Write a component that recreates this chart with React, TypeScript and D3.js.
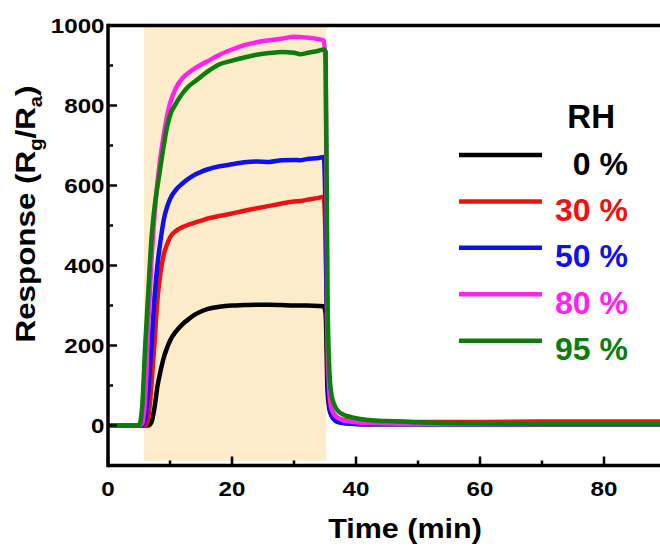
import React from "react";
import * as d3 from "d3";

// Sampling times (min) shared by every humidity series
const TIME = [
  0, 5, 5.5, 6, 6.5, 7, 7.5, 8, 8.5, 9, 9.5, 10, 11, 12, 13, 14, 15, 16, 18, 20,
  22, 24, 26, 28, 30, 31, 32, 34, 34.8, 35.1, 35.4, 35.7, 36, 36.5, 37, 38, 39,
  40, 42, 45, 50, 60, 70, 80, 90,
];

// Response Rg/Ra at each sampling time
const RH_0 = [
  0, 0, 0, 0, 0, 8, 45, 100, 138, 170, 193, 212, 236, 253, 266, 277, 285, 291,
  297, 300, 301, 302, 302, 301, 300, 300, 300, 299, 298, 280, 90, 42, 26, 16,
  11, 7, 5, 4, 3, 3, 3, 3, 3, 3, 3,
];
const RH_30 = [
  0, 0, 0, 0, 20, 100, 205, 320, 385, 428, 452, 470, 487, 496, 502, 507, 512,
  517, 524, 530, 537, 543, 549, 555, 560, 561, 564, 569, 572, 460, 170, 75, 42,
  26, 19, 14, 12, 11, 10, 10, 9, 9, 10, 10, 10,
];
const RH_50 = [
  0, 0, 0, 15, 90, 200, 320, 405, 465, 515, 545, 566, 590, 605, 617, 627, 634,
  640, 648, 653, 658, 660, 659, 663, 664, 663, 666, 669, 671, 520, 140, 55, 28,
  14, 9, 6, 5, 4, 3, 3, 3, 3, 3, 3, 3,
];
const RH_80 = [
  0, 0, 5, 70, 250, 410, 525, 612, 675, 728, 772, 805, 845, 868, 882, 893, 902,
  910, 927, 940, 951, 958, 963, 967, 972, 971, 970, 966, 962, 900, 230, 85, 45,
  28, 20, 13, 10, 8, 6, 5, 4, 4, 4, 4, 4,
];
const RH_95 = [
  0, 0, 45, 200, 335, 465, 545, 600, 650, 700, 745, 775, 806, 830, 848, 860,
  872, 884, 903, 912, 920, 927, 931, 934, 932, 928, 931, 937, 940, 935, 330,
  140, 82, 52, 38, 27, 22, 18, 14, 11, 8, 5, 4, 4, 4,
];

const SERIES_LABELS = ["0 %", "30 %", "50 %", "80 %", "95 %"];
const SERIES_VALUES = [RH_0, RH_30, RH_50, RH_80, RH_95];
const SERIES_COLORS = ["#000000", "#ee1111", "#1010ee", "#ff22ee", "#0b7d0b"];

// Gas exposure window (min)
const EXPOSURE = [5.8, 35.2];

const X_TICKS = [0, 20, 40, 60, 80];
const X_MINOR = [10, 30, 50, 70, 90];
const Y_TICKS = [0, 200, 400, 600, 800, 1000];
const Y_MINOR = [100, 300, 500, 700, 900];

const W = 660;
const H = 548;
const FONT = "'Liberation Sans', Arial, sans-serif";

function SText({ x, y, sx = 1, rotate = 0, anchor = "middle", size, fill = "#000", children }: any) {
  return (
    <g transform={`translate(${x},${y}) rotate(${rotate}) scale(${sx},1)`}>
      <text textAnchor={anchor} fontSize={size} fontWeight="bold" fontFamily={FONT} fill={fill}>
        {children}
      </text>
    </g>
  );
}

export default function App() {
  const x = d3.scaleLinear().domain([0, 90]).range([108, 666]);
  const y = d3.scaleLinear().domain([-100, 1000]).range([465.5, 25.5]);

  const line = d3
    .line<number>()
    .x((_, i) => x(TIME[i]))
    .y((v) => y(v))
    .curve(d3.curveMonotoneX);

  const left = x(0);
  const bottom = y(-100);
  const top = y(1000);

  const legendY = d3.scaleLinear().domain([0, 4]).range([155, 340.7]);

  return (
    <svg
      width={W}
      height={H}
      viewBox={`0 0 ${W} ${H}`}
      style={{ position: "absolute", left: 0, top: 0, background: "#fff" }}
    >
      <defs>
        <clipPath id="plot-clip">
          <rect x={left} y={top} width={W - left} height={bottom - top} />
        </clipPath>
      </defs>

      {/* exposure window */}
      <rect
        x={x(EXPOSURE[0])}
        y={top}
        width={x(EXPOSURE[1]) - x(EXPOSURE[0])}
        height={y(-88) - top}
        fill="#fcecca"
      />

      {/* response curves */}
      <g clipPath="url(#plot-clip)">
        {SERIES_VALUES.map((vals, i) => (
          <path
            key={SERIES_LABELS[i]}
            d={line(vals) || ""}
            fill="none"
            stroke={SERIES_COLORS[i]}
            strokeWidth={4.5}
            strokeLinejoin="round"
          />
        ))}
      </g>

      {/* frame */}
      <g stroke="#000" strokeWidth={3.5} fill="none">
        <line x1={left} x2={W} y1={top} y2={top} />
        <line x1={left} x2={W} y1={bottom} y2={bottom} />
        <line x1={left} x2={left} y1={top - 1.7} y2={bottom + 1.7} />
      </g>

      {/* ticks (inward) */}
      <g stroke="#000" strokeWidth={2.5}>
        {X_TICKS.map((t) => (
          <line key={`xt${t}`} x1={x(t)} x2={x(t)} y1={bottom} y2={bottom - 9} />
        ))}
        {X_MINOR.map((t) => (
          <line key={`xm${t}`} x1={x(t)} x2={x(t)} y1={bottom} y2={bottom - 5} />
        ))}
        {Y_TICKS.map((t) => (
          <line key={`yt${t}`} x1={left} x2={left + 9} y1={y(t)} y2={y(t)} />
        ))}
        {Y_MINOR.map((t) => (
          <line key={`ym${t}`} x1={left} x2={left + 5} y1={y(t)} y2={y(t)} />
        ))}
      </g>

      {/* tick labels */}
      {X_TICKS.map((t) => (
        <SText key={`xl${t}`} x={x(t)} y={495.5} sx={1.15} size={21}>
          {t}
        </SText>
      ))}
      {Y_TICKS.map((t) => (
        <SText key={`yl${t}`} x={104.5} y={y(t) + 7.5} sx={1.15} size={21} anchor="end">
          {t}
        </SText>
      ))}

      {/* axis titles */}
      <SText x={405} y={538} sx={1.09} size={28}>
        Time (min)
      </SText>
      <g transform={`translate(35,214) rotate(-90) scale(1.12,1)`}>
        <text textAnchor="middle" fontSize={28} fontWeight="bold" fontFamily={FONT} fill="#000">
          Response (R
          <tspan dy={7} fontSize={18}>g</tspan>
          <tspan dy={-7}>/R</tspan>
          <tspan dy={7} fontSize={18}>a</tspan>
          <tspan dy={-7}>)</tspan>
        </text>
      </g>

      {/* legend */}
      <SText x={615} y={128} size={33} anchor="end">
        RH
      </SText>
      {SERIES_LABELS.map((lab, i) => (
        <g key={`lg${lab}`}>
          <line
            x1={459}
            x2={542}
            y1={legendY(i)}
            y2={legendY(i)}
            stroke={SERIES_COLORS[i]}
            strokeWidth={4.5}
          />
          <SText x={628} y={legendY(i) + 19.5} size={32} anchor="end" fill={SERIES_COLORS[i]}>
            {lab}
          </SText>
        </g>
      ))}
    </svg>
  );
}
